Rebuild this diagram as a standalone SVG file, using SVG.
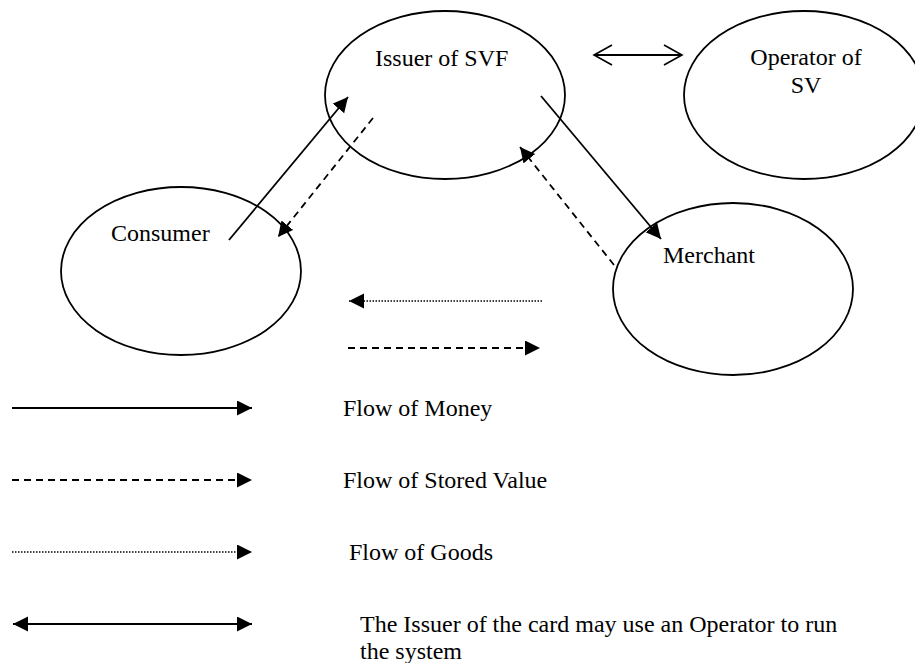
<svg xmlns="http://www.w3.org/2000/svg" width="915" height="663" viewBox="0 0 915 663">
<style>
.node{fill:none;stroke:#000;stroke-width:1.8}
.lbl{font-family:"Liberation Serif","Times New Roman",serif;font-size:24px;fill:#000}
.ln{fill:none;stroke:#000;stroke-width:1.8}
.dash{stroke-dasharray:7 5}
.dot{stroke-dasharray:1.5 1.5;stroke-width:1.6}
</style>
<defs>
<marker id="ah" markerUnits="userSpaceOnUse" markerWidth="16" markerHeight="16" refX="15" refY="7.5" orient="auto">
<path d="M0,0 L15,7.5 L0,15 z" fill="#000"/>
</marker>
<marker id="ahs" markerUnits="userSpaceOnUse" markerWidth="16" markerHeight="16" refX="15" refY="7.5" orient="auto-start-reverse">
<path d="M0,0 L15,7.5 L0,15 z" fill="#000"/>
</marker>
<marker id="open" markerUnits="userSpaceOnUse" markerWidth="22" markerHeight="24" refX="19" refY="11" orient="auto-start-reverse">
<path d="M1,1 L19,11 L1,21" fill="none" stroke="#000" stroke-width="1.6"/>
</marker>
</defs>
<rect width="915" height="663" fill="#fff"/>
<g id="issuer"><ellipse class="node" cx="445" cy="95" rx="120" ry="84"/><text class="lbl" x="375" y="66">Issuer of SVF</text></g>
<g id="operator"><ellipse class="node" cx="804" cy="95" rx="120" ry="84"/><text class="lbl" x="806" y="65" text-anchor="middle">Operator of</text><text class="lbl" x="806" y="93" text-anchor="middle">SV</text></g>
<g id="consumer"><ellipse class="node" cx="181" cy="271" rx="120" ry="84"/><text class="lbl" x="111" y="241">Consumer</text></g>
<g id="merchant"><ellipse class="node" cx="733" cy="289" rx="120" ry="86"/><text class="lbl" x="663" y="263">Merchant</text></g>
<g id="connectors">
<line class="ln" x1="594" y1="55" x2="682" y2="55" marker-start="url(#open)" marker-end="url(#open)"/>
<line class="ln" x1="229" y1="240" x2="348" y2="97" marker-end="url(#ah)"/>
<line class="ln dash" x1="373" y1="118" x2="278" y2="237" marker-end="url(#ah)"/>
<line class="ln" x1="541" y1="96" x2="661" y2="239" marker-end="url(#ah)"/>
<line class="ln dash" x1="614" y1="265" x2="520" y2="147" marker-end="url(#ah)"/>
<line class="ln dot" x1="542" y1="301" x2="349" y2="301" marker-end="url(#ah)"/>
<line class="ln dash" x1="348" y1="348" x2="540" y2="348" marker-end="url(#ah)"/>
</g>
<g id="legend">
<line class="ln" x1="12" y1="408" x2="252" y2="408" marker-end="url(#ah)"/>
<text class="lbl" x="343" y="416">Flow of Money</text>
<line class="ln dash" x1="12" y1="480" x2="252" y2="480" marker-end="url(#ah)"/>
<text class="lbl" x="343" y="488">Flow of Stored Value</text>
<line class="ln dot" x1="12" y1="552" x2="252" y2="552" marker-end="url(#ah)"/>
<text class="lbl" x="349" y="560">Flow of Goods</text>
<line class="ln" x1="13" y1="624" x2="252" y2="624" marker-start="url(#ahs)" marker-end="url(#ahs)"/>
<text class="lbl" x="360" y="632">The Issuer of the card may use an Operator to run</text>
<text class="lbl" x="360" y="659">the system</text>
</g>
</svg>
